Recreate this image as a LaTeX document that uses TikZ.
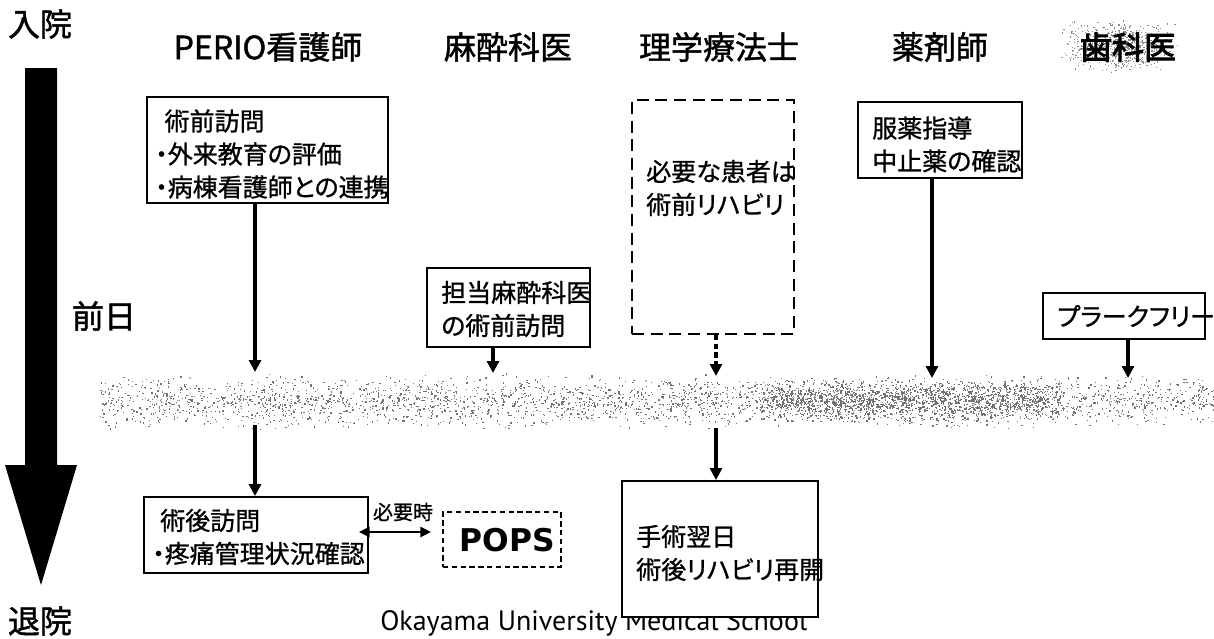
\documentclass[tikz,border=0pt]{standalone}
\usepackage{fontspec}
\usetikzlibrary{arrows.meta,fit,calc}
\newfontfamily\jp[RawFeature=+palt,FakeBold=1]{Noto Sans CJK JP}
\newfontfamily\jph[RawFeature=+palt,FakeBold=1.4]{Noto Sans CJK JP}
\newfontfamily\jpbold[RawFeature=+palt,FakeBold=3]{Noto Sans CJK JP}
\newfontfamily\dvs{DejaVu Sans}
\newfontfamily\pts{PT Sans}
\begin{document}
\begin{tikzpicture}[x=0.75pt,y=-0.75pt,
  box/.style={draw, line width=1.4pt, fill=white, inner sep=0pt},
  dbox/.style={box, dash pattern=on 9pt off 5pt},
  dboxs/.style={box, dash pattern=on 4pt off 2.6pt},
  lbl/.style={font=\jp\fontsize{18.75}{24.75}\selectfont, anchor=west, align=left, inner sep=0pt},
  hdr/.style={font=\jph\fontsize{24}{28}\selectfont, inner sep=0pt},
  arr/.style={line width=2.5pt, -{Triangle[length=9pt,width=9pt]}},
  darr/.style={arr, dash pattern=on 4pt off 2.5pt},
  dbl/.style={line width=2pt, {Triangle[length=8pt,width=7.5pt]}-{Triangle[length=8pt,width=7.5pt]}},
  noise/.style={fill=black!55}
]
\path (0,0) rectangle (1214,639);
\clip (0,0) rectangle (1214,639);

% noisy band
\pgfmathsetseed{7}
\foreach \i in {1,...,3000}{
  \pgfmathsetmacro\xx{100+1114*rnd}
  \pgfmathsetmacro\yy{401+14*(rand+rand)}
  \fill[noise] (\xx,\yy) rectangle ++(1.3,1.3);
}
\foreach \i in {1,...,1600}{
  \pgfmathsetmacro\xx{760+300*rnd}
  \pgfmathsetmacro\yy{400+11*(rand+rand)}
  \fill[noise] (\xx,\yy) rectangle ++(1.3,1.3);
}
% noisy background behind dentist header
\foreach \i in {1,...,700}{
  \pgfmathsetmacro\xx{1120+30*(rand+rand)}
  \pgfmathsetmacro\yy{46+13*(rand+rand)}
  \fill[fill=black!45] (\xx,\yy) rectangle ++(1.2,1.2);
}

% headers
\node[hdr] (h0) at (40,24) {入院};
\node[hdr] (h1) at (268,47) {PERIO看護師};
\node[hdr] (h2) at (508,47) {麻酔科医};
\node[hdr] (h3) at (719,47) {理学療法士};
\node[hdr] (h4) at (940,47) {薬剤師};
\node[hdr, font=\jpbold\fontsize{24}{28}\selectfont] (h5) at (1128,47) {歯科医};
\node[hdr] (d1) at (104,316) {前日};
\node[hdr] (d2) at (40,621) {退院};

% big time arrow
\fill (25,68) -- (57,68) -- (57,465) -- (77,465) -- (41,585) -- (5,465) -- (25,465) -- cycle;

% footer text (partly covered by box below)
\node[font=\pts\fontsize{21}{24}\selectfont, anchor=base west, inner sep=0pt] (ou) at (380,630) {Okayama University Medical School};

% PERIO nurse column
\node[box, fit={(147,97)(388,203)}] (b1) {};
\node[lbl] (t1) at (155,154) {\hspace*{7pt}術前訪問\\・外来教育の評価\\・病棟看護師との連携};
\coordinate (e1) at (255,372);
\draw[arr] (b1.south -| e1) -- (e1);
\coordinate (s1) at (255,425);
\node[box, fit={(144,497)(368,573)}] (b2) {};
\node[lbl] (t2) at (152,537) {\hspace*{6pt}術後訪問\\・疼痛管理状況確認};
\draw[arr] (s1) -- (s1 |- b2.north);

\node[dboxs, fit={(443,512)(561,567)}] (pops) {};
\node[font=\dvs\bfseries\fontsize{23.5}{26}\selectfont, inner sep=0pt] (popst) at (507,540) {POPS};
\draw[dbl] ([shift={(-10,-3)}]b2.east) -- ([shift={(-11,-7.5)}]pops.west);
\node[font=\jp\fontsize{15}{18}\selectfont, inner sep=0pt] (need) at (403,512) {必要時};

% anaesthetist column
\node[box, fit={(427,268)(590,347)}] (b3) {};
\node[lbl] (t3) at (441,309) {担当麻酔科医\\の術前訪問};
\coordinate (e3) at (493,373);
\draw[arr] (b3.south -| e3) -- (e3);

% physiotherapist column
\node[dbox, fit={(632,100)(794,334)}] (b4) {};
\node[lbl] (t4) at (646,188) {必要な患者は\\術前リハビリ};
\coordinate (e4) at (716,376);
\draw[darr, line width=3pt] (b4.south -| e4) -- (e4);
\coordinate (s4) at (716,428);
\node[box, fit={(622,481)(818,617)}] (b5) {};
\node[lbl] (t5) at (636,553) {手術翌日\\術後リハビリ再開};
\draw[arr] (s4) -- (s4 |- b5.north);

% pharmacist column
\node[box, fit={(858,102)(1022,178)}] (b6) {};
\node[lbl] (t6) at (872,144.5) {服薬指導\\中止薬の確認};
\coordinate (e6) at (932,378);
\draw[arr, line width=3.2pt] (b6.south -| e6) -- (e6);

% dentist column
\node[box, fit={(1043,293)(1205,339)}] (b7) {};
\node[lbl] (t7) at (1057,316) {プラークフリー};
\coordinate (e7) at (1128,378);
\draw[arr] (b7.south -| e7) -- (e7);
\end{tikzpicture}
\end{document}
